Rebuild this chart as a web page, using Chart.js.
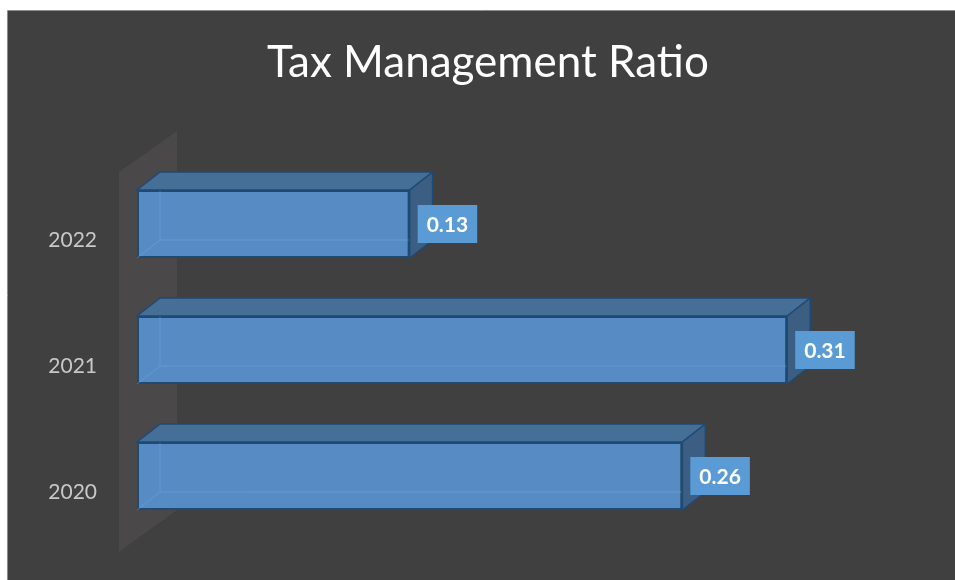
<!DOCTYPE html>
<html>
<head>
<meta charset="utf-8">
<script src="https://cdn.jsdelivr.net/npm/chart.js@4/dist/chart.umd.min.js"></script>
<style>
  body { margin: 0; background: #fff; }
  #wrap { width: 955px; height: 580px; }
</style>
</head>
<body>
<div id="wrap"><canvas id="ratioChart"></canvas></div>
<script>
// ---- data ----
const years = ['2022', '2021', '2020'];
const ratios = [0.13, 0.31, 0.26];
const xTicks = [0, 0.05, 0.1, 0.15, 0.2, 0.25, 0.3, 0.35];
const xMax = 0.39;

// 3d look
const DX = 23, DY = -18;

const panel = {
  id: 'panel',
  beforeDraw(chart) {
    const c = chart.ctx;
    c.save();
    c.fillStyle = '#ffffff';
    c.fillRect(0, 0, chart.width, chart.height);
    c.fillStyle = '#404040';
    c.fillRect(8, 11, chart.width - 8, chart.height - 11);
    c.strokeStyle = '#8c8c8c';
    c.lineWidth = 1;
    c.beginPath();
    c.moveTo(7.5, chart.height);
    c.lineTo(7.5, 10.5);
    c.lineTo(chart.width, 10.5);
    c.stroke();
    c.restore();
  },
  beforeDatasetsDraw(chart) {
    // left wall of the 3d plot
    const c = chart.ctx, a = chart.chartArea;
    const x0 = a.left - 18, x1 = x0 + 58;
    c.save();
    c.fillStyle = '#4a4848';
    c.beginPath();
    c.moveTo(x0, a.top + 11);
    c.lineTo(x1, a.top - 30);
    c.lineTo(x1, a.bottom - 29);
    c.lineTo(x0, a.bottom + 13);
    c.closePath();
    c.fill();
    c.restore();
  },
  afterDatasetsDraw(chart) {
    const c = chart.ctx;
    const meta = chart.getDatasetMeta(0);
    c.save();
    meta.data.forEach((bar, i) => {
      const xa = bar.base, xb = bar.x;
      const yt = bar.y - bar.height / 2, yb = bar.y + bar.height / 2;
      // inner back edges seen through the face
      c.strokeStyle = 'rgba(110,170,230,0.45)';
      c.lineWidth = 1;
      c.beginPath();
      c.moveTo(xa + DX, yt + DY);
      c.lineTo(xa + DX, yb + DY);
      c.lineTo(xb, yb + DY);
      c.moveTo(xa, yb);
      c.lineTo(xa + DX, yb + DY);
      c.stroke();
      // top face
      c.strokeStyle = '#1f4a73';
      c.lineWidth = 1.5;
      c.fillStyle = '#466f97';
      c.beginPath();
      c.moveTo(xa, yt);
      c.lineTo(xa + DX, yt + DY);
      c.lineTo(xb + DX, yt + DY);
      c.lineTo(xb, yt);
      c.closePath();
      c.fill();
      c.stroke();
      // side face
      c.fillStyle = '#3b5e82';
      c.beginPath();
      c.moveTo(xb, yt);
      c.lineTo(xb + DX, yt + DY);
      c.lineTo(xb + DX, yb + DY);
      c.lineTo(xb, yb);
      c.closePath();
      c.fill();
      c.stroke();
      // value label
      const txt = ratios[i].toFixed(2);
      c.font = 'bold 21px Lato';
      const w = c.measureText(txt).width + 18;
      const bx = xb + 8;
      c.fillStyle = '#5b9bd5';
      c.fillRect(bx, bar.y - 19, w, 38);
      c.fillStyle = '#ffffff';
      c.textAlign = 'left';
      c.textBaseline = 'middle';
      c.fillText(txt, bx + 9, bar.y + 1);
    });
    c.restore();
  }
};

const ctx = document.getElementById('ratioChart').getContext('2d');
const ratioChart = new Chart(ctx, {
  type: 'bar',
  data: {
    labels: years,
    datasets: [{
      label: 'Tax Management Ratio',
      data: ratios,
      backgroundColor: '#568cc3',
      borderColor: '#1f4a73',
      borderWidth: 2,
      borderSkipped: false,
      categoryPercentage: 1,
      barPercentage: 0.54
    }]
  },
  options: {
    indexAxis: 'y',
    responsive: true,
    maintainAspectRatio: false,
    animation: false,
    layout: { padding: { left: 21, top: 11, right: 0, bottom: 41 } },
    plugins: {
      legend: { display: false },
      tooltip: { enabled: false },
      title: {
        display: true,
        text: 'Tax Management Ratio',
        color: '#ffffff',
        font: { family: 'Lato', size: 44, weight: 'normal' },
        padding: { top: 25.6, bottom: 71.6 }
      }
    },
    scales: {
      x: {
        min: 0,
        max: xMax,
        display: false,
        afterBuildTicks(s) { s.ticks = xTicks.map(v => ({ value: v })); }
      },
      y: {
        grid: { display: false, drawTicks: false },
        border: { display: false },
        afterFit(s) {
          s.width = 116;
          s.paddingTop = 0;
          s.paddingBottom = 0;
        },
        ticks: {
          color: '#c8c8c8',
          font: { family: 'Lato', size: 21 },
          padding: 40,
          labelOffset: 16
        }
      }
    }
  },
  plugins: [panel]
});
</script>
</body>
</html>
